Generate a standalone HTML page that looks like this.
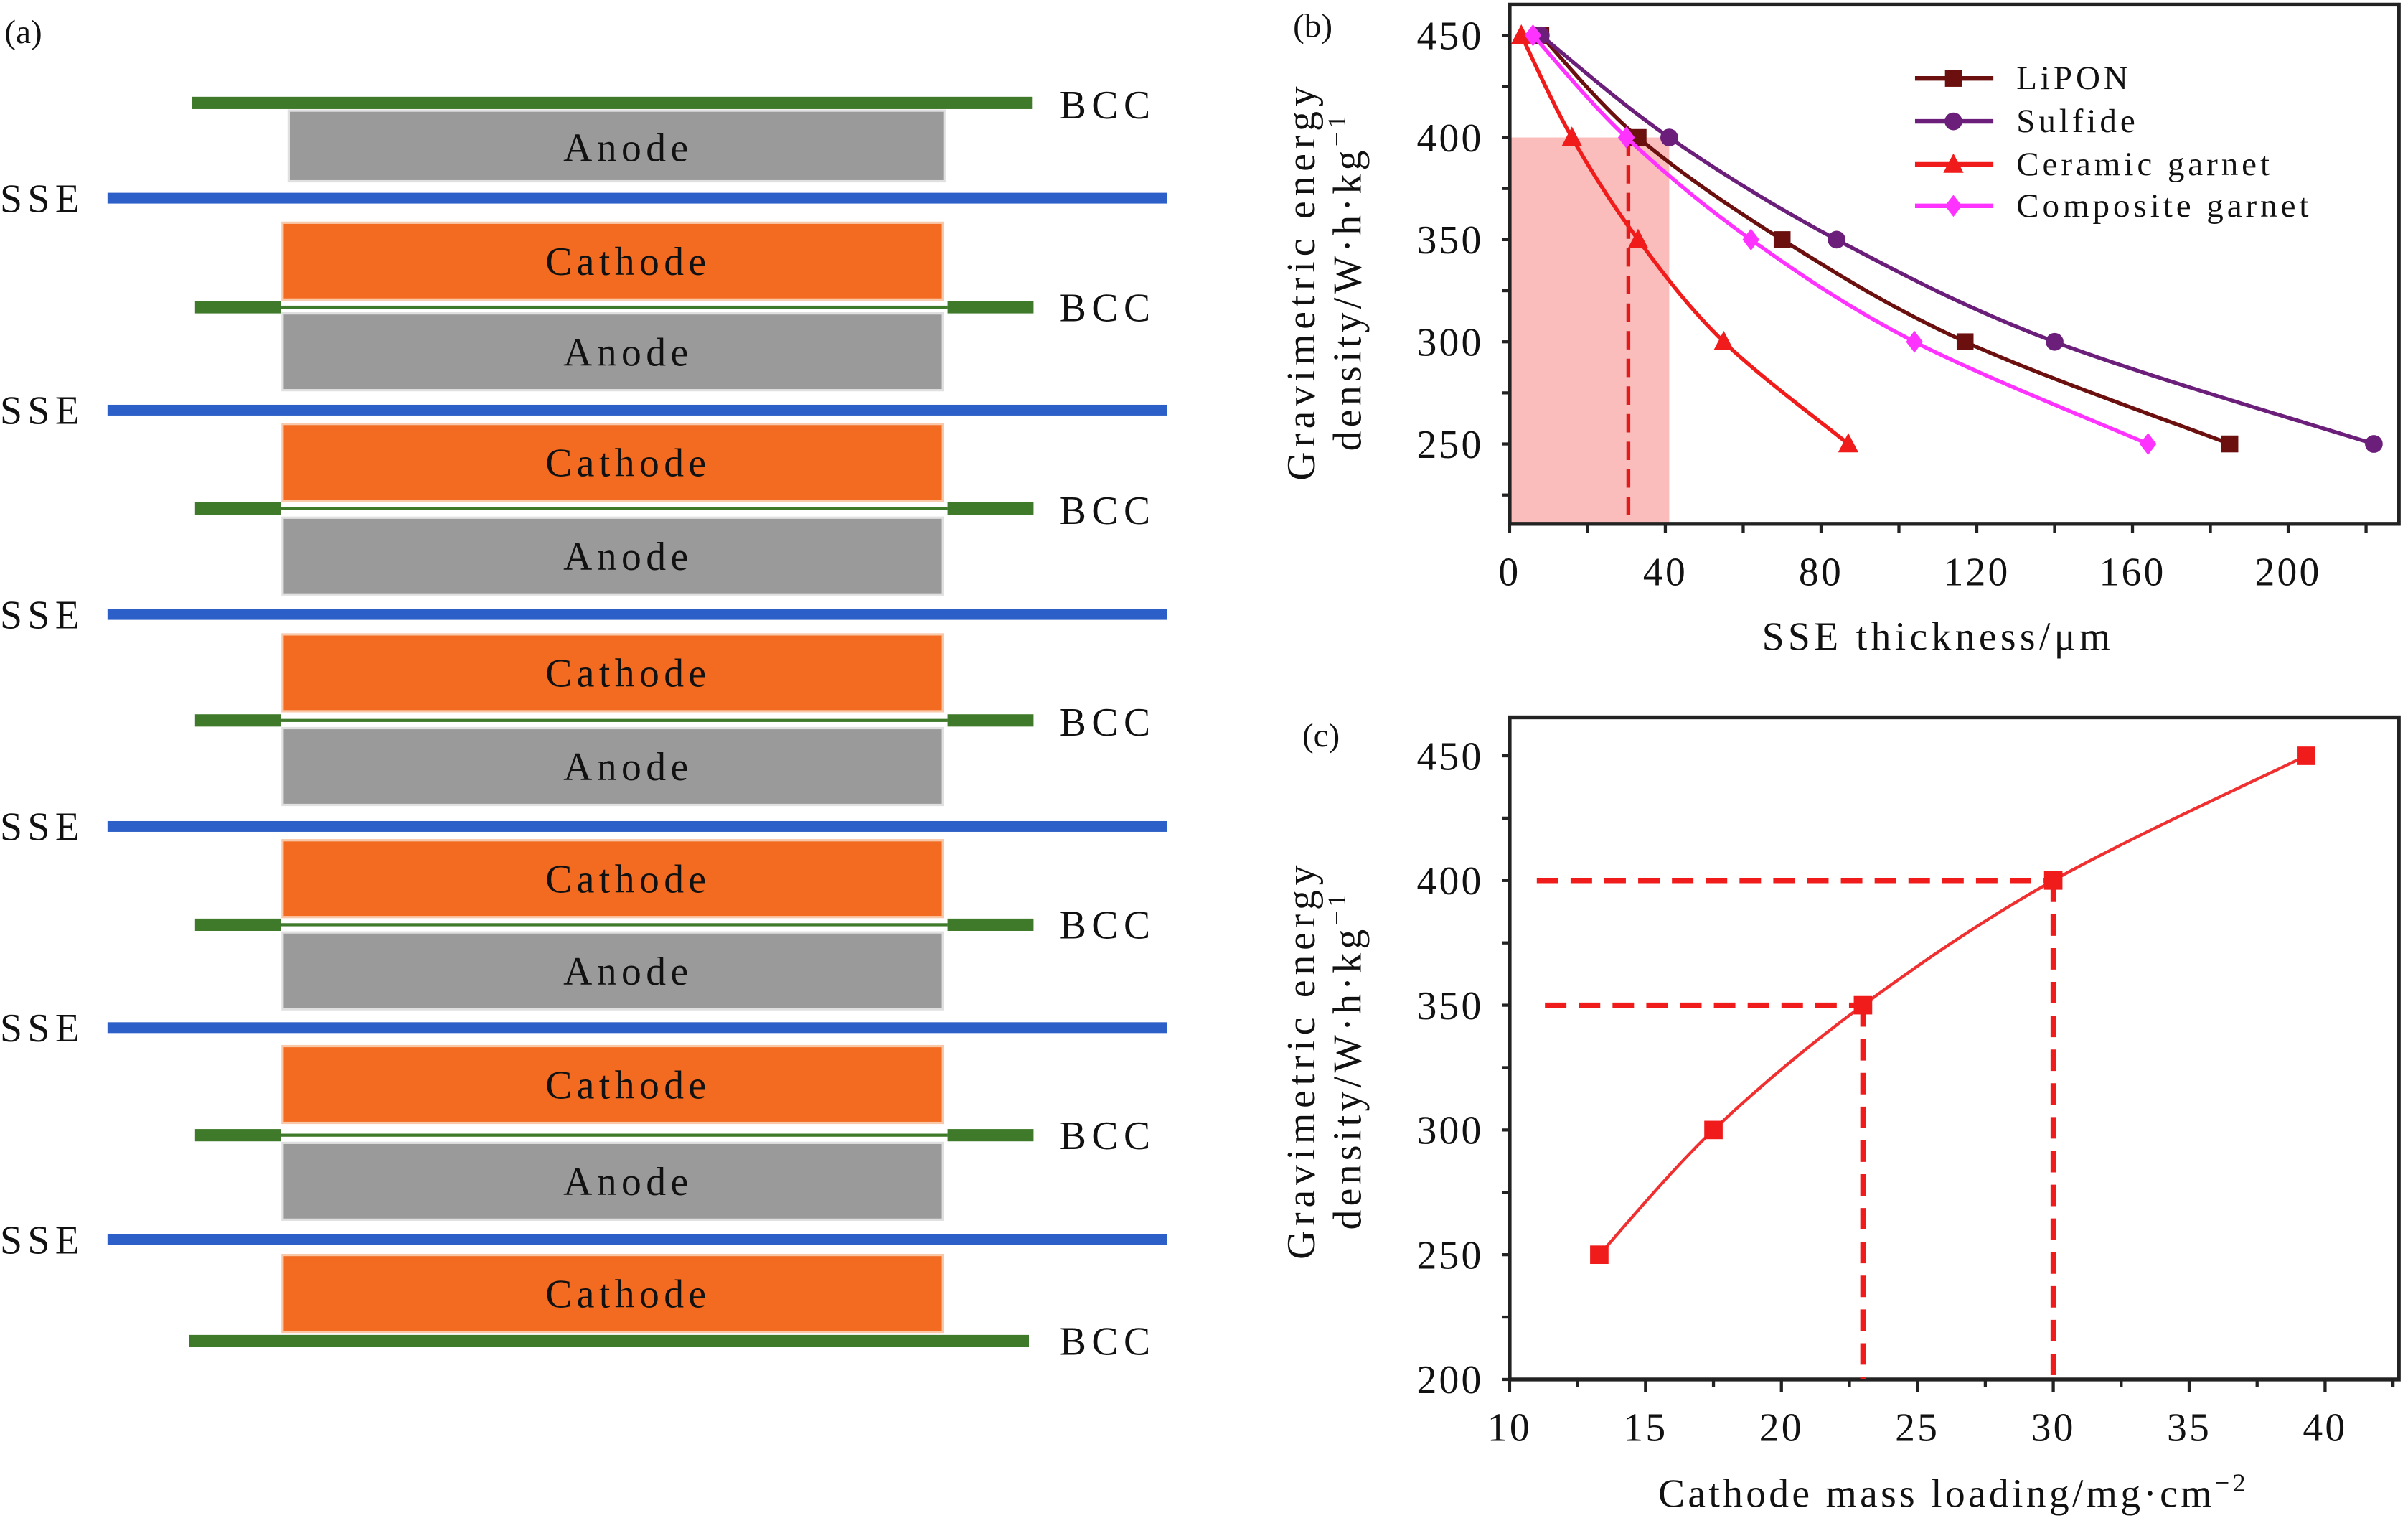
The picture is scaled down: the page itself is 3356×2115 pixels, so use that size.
<!DOCTYPE html>
<html><head><meta charset="utf-8"><style>
html,body{margin:0;padding:0;background:#fff;}
svg{display:block;}
text{font-family:"Liberation Serif",serif;fill:#111;}
</style></head><body>
<svg id="fig" width="3356" height="2115" viewBox="0 0 1568 988.2" preserveAspectRatio="none" xmlns="http://www.w3.org/2000/svg">
<g id="panelA">
<text x="3" y="28" font-size="22">(a)</text>
</g>
<g id="panelB"></g>
<g id="panelC"></g>
</svg>
<script>
const NS="http://www.w3.org/2000/svg";
function mk(parent,tag,attrs,txt){const e=document.createElementNS(NS,tag);for(const k in attrs)e.setAttribute(k,attrs[k]);if(txt!==undefined)e.textContent=txt;parent.appendChild(e);return e;}

/* ---------- Panel A ---------- */
const A=document.getElementById('panelA');
const sseY=[129,267,400,538,669,807];
const cathodeY=[145,276,413,547,681,817];
const anodeY=[72,204,337,474,607,744];
const bccMidY=[200,331,469,602,739];
const bccLabelY=[68,200,332,470,602,739,873];
let e;
e=mk(A,'rect',{x:125,y:63,width:547,height:8,fill:'#3f7a2a'});


e=mk(A,'rect',{x:123,y:869,width:547,height:8,fill:'#3f7a2a'});


bccMidY.forEach((y,i)=>{
  e=mk(A,'rect',{x:182,y:y-1,width:435,height:2,fill:'#3f7a2a'});
  
  
  e=mk(A,'rect',{x:127,y:y-4,width:56,height:8,fill:'#3f7a2a'});
  
  
  e=mk(A,'rect',{x:617,y:y-4,width:56,height:8,fill:'#3f7a2a'});
  
  
});
anodeY.forEach((y,i)=>{
  const x0=i==0?188:184;
  e=mk(A,'rect',{x:x0,y:y,width:615-x0+(i==0?0:-1),height:i==0?46:50,fill:'#9a9a9a',stroke:'#e0e0e0','stroke-width':1.5});
  
  
  e=mk(A,'text',{x:409,y:y+(i==0?33:34),'font-size':26,'letter-spacing':3,'text-anchor':'middle'},'Anode');
  
  
});
cathodeY.forEach((y,i)=>{
  e=mk(A,'rect',{x:184,y:y,width:430,height:50,fill:'#f26b21',stroke:'#f8c8a8','stroke-width':1.5});
  
  
  e=mk(A,'text',{x:409,y:y+34,'font-size':26,'letter-spacing':3,'text-anchor':'middle'},'Cathode');
  
  
});
sseY.forEach(y=>{
  e=mk(A,'rect',{x:70,y:y-3.5,width:690,height:7,fill:'#2d5fc8'});
  
  
  e=mk(A,'text',{x:0,y:y+9,'font-size':26,'letter-spacing':3.5},'SSE');
  
  
});
bccLabelY.forEach(y=>{
  e=mk(A,'text',{x:690,y:y+9,'font-size':26,'letter-spacing':3.5},'BCC');
  
  
});

/* ---------- Panel B data ---------- */
const bSeriesNames=['LiPON','Sulfide','Ceramic garnet','Composite garnet'];
const bLiponX=[8,33,70,117,185];
const bSulfideX=[8,41,84,140,222];
const bCeramicX=[3,16,33,55,87];
const bCompositeX=[6,30,62,104,164];
const bYValues=[450,400,350,300,250];
const bXTicks=[0,40,80,120,160,200];
const bYTicks=[250,300,350,400,450];
const bShadeX=41, bShadeY=400, bDashX=30.5;

/* ---------- Panel C data ---------- */
const cX=[13.3,17.5,23,30,39.3];
const cY=[250,300,350,400,450];
const cXTicks=[10,15,20,25,30,35,40];
const cYTicks=[200,250,300,350,400,450];
const cGuideY=[350,400];
const cGuideX=[23,30];
const cGuideStart=[11.3,11];

function smooth(pts){
  let d=`M${pts[0][0]},${pts[0][1]}`;
  for(let i=0;i<pts.length-1;i++){
    const p0=pts[Math.max(0,i-1)],p1=pts[i],p2=pts[i+1],p3=pts[Math.min(pts.length-1,i+2)];
    const c1=[p1[0]+(p2[0]-p0[0])/6,p1[1]+(p2[1]-p0[1])/6];
    const c2=[p2[0]-(p3[0]-p1[0])/6,p2[1]-(p3[1]-p1[1])/6];
    d+=` C${c1[0]},${c1[1]} ${c2[0]},${c2[1]} ${p2[0]},${p2[1]}`;
  }
  return d;
}
function marker(g,type,x,y,col,s){
  let m;
  if(type==='square')m=mk(g,'rect',{x:x-s,y:y-s,width:2*s,height:2*s,fill:col});
  else if(type==='circle')m=mk(g,'circle',{cx:x,cy:y,r:s*1.05,fill:col});
  else if(type==='triangle')m=mk(g,'polygon',{points:`${x},${y-s*1.3} ${x-s*1.2},${y+s} ${x+s*1.2},${y+s}`,fill:col});
  else m=mk(g,'polygon',{points:`${x},${y-s*1.3} ${x+s},${y} ${x},${y+s*1.3} ${x-s},${y}`,fill:col});
  return m;
}

/* ---------- Panel B drawing ---------- */
const B=document.getElementById('panelB');
const bx=v=>983+2.535*v, by=v=>23+(450-v)*1.33;
const bL=983,bR=1562,bT=3,bB=341;
e=mk(B,'rect',{x:bL,y:by(bShadeY),width:bx(bShadeX)-bL,height:bB-by(bShadeY),fill:'#fbbcbc'});


e=mk(B,'line',{x1:bx(bDashX),y1:by(bShadeY),x2:bx(bDashX),y2:bB,stroke:'#e31a1a','stroke-width':2.5,'stroke-dasharray':'12,6'});


e=mk(B,'rect',{x:bL,y:bT,width:bR-bL,height:bB-bT,fill:'none',stroke:'#222','stroke-width':2.5});


for(let v=0;v<=220;v+=20){
  e=mk(B,'line',{x1:bx(v),y1:bB,x2:bx(v),y2:bB+6,stroke:'#222','stroke-width':2});
  
  
}
for(let v=225;v<=450;v+=25){
  e=mk(B,'line',{x1:bL-5,y1:by(v),x2:bL,y2:by(v),stroke:'#222','stroke-width':2});
  
  
}
bXTicks.forEach(v=>{
  e=mk(B,'text',{x:bx(v),y:381,'font-size':26,'letter-spacing':1.5,'text-anchor':'middle'},String(v));
  
  
});
bYTicks.forEach(v=>{
  e=mk(B,'text',{x:966,y:by(v)+9,'font-size':26,'letter-spacing':1.5,'text-anchor':'end'},String(v));
  
  
});
e=mk(B,'text',{x:1262,y:423,'font-size':26,'letter-spacing':2.5,'text-anchor':'middle'},'SSE thickness/μm');


e=mk(B,'text',{transform:'translate(856,183) rotate(-90)','font-size':26,'text-anchor':'middle','letter-spacing':'3.2'},'Gravimetric energy');


e=mk(B,'text',{transform:'translate(886,183) rotate(-90)','font-size':26,'text-anchor':'middle','letter-spacing':'2.5'});


e.innerHTML='density/W·h·kg<tspan dy="-10" font-size="17">−1</tspan>';
e=mk(B,'text',{x:842,y:24,'font-size':22},'(b)');


const bSeries=[[bLiponX,'#6b0f0f','square'],[bSulfideX,'#6b1f7a','circle'],[bCeramicX,'#f01c1c','triangle'],[bCompositeX,'#ff33ff','diamond']];
bSeries.forEach((s,i)=>{
  const g=mk(B,'g',{});
  
  
  const pts=s[0].map((x,j)=>[bx(x),by(bYValues[j])]);
  e=mk(g,'path',{d:smooth(pts),fill:'none',stroke:s[1],'stroke-width':2.5});
  
  
  pts.forEach(p=>{
    e=marker(g,s[2],p[0],p[1],s[1],5.5);
    
    
  });
  const ly=[51,79,107,134][i];
  e=mk(g,'line',{x1:1247,y1:ly,x2:1298,y2:ly,stroke:s[1],'stroke-width':3});
  
  
  e=marker(g,s[2],1272,ly,s[1],5.5);
  
  
  e=mk(g,'text',{x:1313,y:ly+7,'font-size':22,'letter-spacing':2.3},bSeriesNames[i]);
  
  
});

/* ---------- Panel C drawing ---------- */
const C=document.getElementById('panelC');
const cx=v=>983+(v-10)*17.7, cy=v=>898-(v-200)*1.624;
const cL=983,cR=1562,cT=467,cB=898;
e=mk(C,'rect',{x:cL,y:cT,width:cR-cL,height:cB-cT,fill:'none',stroke:'#222','stroke-width':2.5});


for(let v=10;v<=42.5;v+=2.5){
  e=mk(C,'line',{x1:cx(v),y1:cB,x2:cx(v),y2:cB+(v%5==0?8:5),stroke:'#222','stroke-width':2});
  
  
}
for(let v=200;v<=450;v+=25){
  e=mk(C,'line',{x1:cL-5,y1:cy(v),x2:cL,y2:cy(v),stroke:'#222','stroke-width':2});
  
  
}
cXTicks.forEach(v=>{
  e=mk(C,'text',{x:cx(v),y:938,'font-size':26,'letter-spacing':1.5,'text-anchor':'middle'},String(v));
  
  
});
cYTicks.forEach(v=>{
  e=mk(C,'text',{x:966,y:cy(v)+9,'font-size':26,'letter-spacing':1.5,'text-anchor':'end'},String(v));
  
  
});
e=mk(C,'text',{x:1272,y:981,'font-size':26,'letter-spacing':2,'text-anchor':'middle'});


e.innerHTML='Cathode mass loading/mg·cm<tspan dy="-10" font-size="17">−2</tspan>';
e=mk(C,'text',{transform:'translate(856,690) rotate(-90)','font-size':26,'text-anchor':'middle','letter-spacing':'3.2'},'Gravimetric energy');


e=mk(C,'text',{transform:'translate(886,690) rotate(-90)','font-size':26,'text-anchor':'middle','letter-spacing':'2.5'});


e.innerHTML='density/W·h·kg<tspan dy="-10" font-size="17">−1</tspan>';
e=mk(C,'text',{x:848,y:486,'font-size':22},'(c)');


cGuideY.forEach((v,i)=>{
  e=mk(C,'line',{x1:cx(cGuideStart[i]),y1:cy(v),x2:cx(cGuideX[i]),y2:cy(v),stroke:'#f01c1c','stroke-width':3.5,'stroke-dasharray':'14,8'});
  
  
  e=mk(C,'line',{x1:cx(cGuideX[i]),y1:cy(v),x2:cx(cGuideX[i]),y2:cB,stroke:'#f01c1c','stroke-width':3.5,'stroke-dasharray':'14,8'});
  
  
});
const cPts=cX.map((x,j)=>[cx(x),cy(cY[j])]);
e=mk(C,'path',{d:smooth(cPts),fill:'none',stroke:'#f03030','stroke-width':2});


cPts.forEach(p=>{
  e=marker(C,'square',p[0],p[1],'#f01c1c',6);
  
  
});
</script>
</body></html>
